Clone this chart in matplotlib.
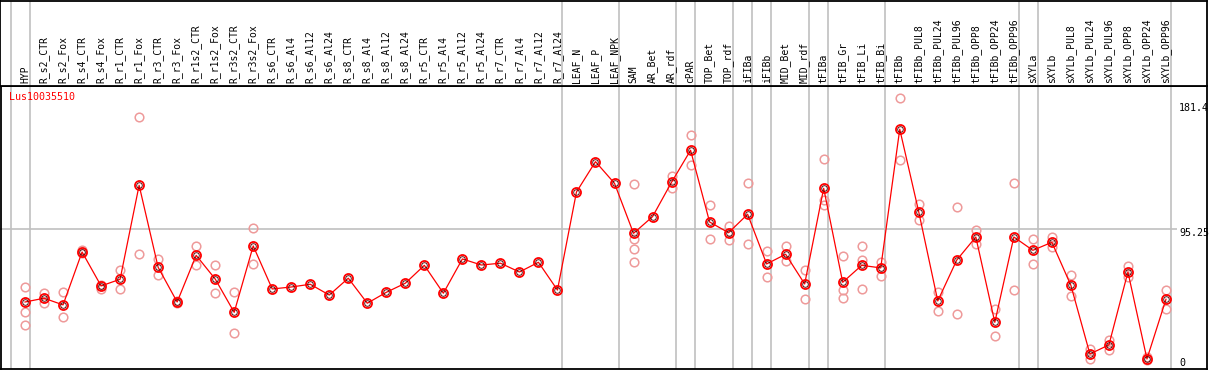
import numpy as np
import matplotlib.pyplot as plt

# muestras (columnas del grafico)
samples = ["HYP", "R_s2_CTR", "R_s2_Fox", "R_s4_CTR", "R_s4_Fox", "R_r1_CTR", "R_r1_Fox",
           "R_r3_CTR", "R_r3_Fox", "R_r1s2_CTR", "R_r1s2_Fox", "R_r3s2_CTR", "R_r3s2_Fox",
           "R_s6_CTR", "R_s6_Al4", "R_s6_Al12", "R_s6_Al24", "R_s8_CTR", "R_s8_Al4",
           "R_s8_Al12", "R_s8_Al24", "R_r5_CTR", "R_r5_Al4", "R_r5_Al12", "R_r5_Al24",
           "R_r7_CTR", "R_r7_Al4", "R_r7_Al12", "R_r7_Al24", "LEAF_N", "LEAF_P", "LEAF_NPK",
           "SAM", "AR_Bet", "AR_rdf", "cPAR", "TOP_Bet", "TOP_rdf", "iFIBa", "iFIBb",
           "MID_Bet", "MID_rdf", "tFIBa", "tFIB_Gr", "tFIB_Li", "tFIB_Bi", "tFIBb",
           "tFIBb_PUL8", "tFIBb_PUL24", "tFIBb_PUL96", "tFIBb_OPP8", "tFIBb_OPP24",
           "tFIBb_OPP96", "sXYLa", "sXYLb", "sXYLb_PUL8", "sXYLb_PUL24", "sXYLb_PUL96",
           "sXYLb_OPP8", "sXYLb_OPP24", "sXYLb_OPP96"]

# media de expresion por muestra
means = [47.0, 49.5, 45.1, 80.0, 57.6, 62.0, 124.0, 69.9, 47.0, 77.8, 62.2, 40.2, 84.0,
         55.6, 56.9, 58.7, 51.6, 62.7, 46.2, 53.4, 59.4, 71.2, 52.8, 75.4, 71.4,
         72.6, 66.8, 73.2, 54.9, 119.6, 139.6, 125.3,
         92.3, 103.3, 126.0, 147.1, 99.8, 92.7, 104.9, 72.1,
         78.5, 58.9, 122.0, 60.0, 71.2, 69.5, 161.0,
         106.4, 47.7, 74.7, 89.9, 33.6, 89.9, 81.1, 86.4, 58.0, 12.7, 18.7,
         66.8, 9.4, 48.8]

# replicas (puntos rosados), lista vacia si no hay
reps = [[56.7, 40.6, 31.7], [52.8, 46.2], [53.4, 36.9], [81.3, 79.2], [58.2, 55.8],
        [68.1, 55.4], [168.9, 78.5], [75.4, 64.6], [47.9, 46.2], [84.0, 71.6],
        [71.4, 52.8], [53.8, 26.6], [95.6, 71.9],
        [], [], [], [], [], [], [], [], [], [], [], [], [], [], [], [], [], [], [],
        [124.7, 88.4, 81.8, 73.2], [], [130.1, 122.2], [157.2, 137.2], [110.8, 88.4],
        [97.2, 87.7], [125.3, 85.3], [80.5, 63.5], [84.0, 73.9], [68.1, 48.8],
        [141.2, 114.3, 111.0], [77.4, 54.9, 49.5], [84.0, 74.7, 55.4], [73.4, 64.2],
        [181.4, 140.7], [111.7, 101.1], [53.8, 41.1], [109.5, 39.1], [94.5, 85.3],
        [42.4, 24.4], [125.3, 54.9], [88.6, 72.1], [89.7, 83.5], [64.6, 51.0],
        [15.8, 9.2], [22.0, 15.4], [71.0, 63.3], [10.6, 8.8], [54.9, 42.6]]

# ultima muestra de cada grupo (lineas grises)
group_ends = [-1, 0, 28, 31, 34, 35, 37, 38, 39, 41, 42, 45, 52, 53, 60]

scale_labels = ["181.4", "95.25", "0"]
mid_value = 95.25
gene = "Lus10035510"

W, H = 1209, 370
fig = plt.figure(figsize=(W / 100, H / 100), dpi=100)
mono = "DejaVu Sans Mono"

x = np.arange(len(samples))
xlim = ((1 - 26) / 19, (1207.3 - 26) / 19)

ax = fig.add_axes([0, (370 - 368.7) / H, 1207.3 / W, (368.7 - 85.7) / H])
hx = fig.add_axes([0, (370 - 85.7) / H, 1207.3 / W, 85.2 / H])

for a in (ax, hx):
    a.set_xlim(xlim)
    a.set_xticks([])
    a.set_yticks([])
    for s in a.spines.values():
        s.set_linewidth(1.3)
        s.set_color("black")
    for g in group_ends:
        a.axvline(g + 0.25, color="#c0c0c0", lw=1.2, zorder=0)

ax.set_ylim(3.0, 189.7)
hx.set_ylim(0, 1)
ax.spines["left"].set_position(("data", xlim[0] + 0.04))

# linea horizontal del valor medio
ax.hlines(mid_value, xlim[0], (1177 - 26) / 19, color="#c0c0c0", lw=1.2, zorder=0)

# replicas
rx = [i for i, r in enumerate(reps) for _ in r]
ry = [v for r in reps for v in r]
ax.plot(rx, ry, "o", ms=6.2, mfc="none", mec="#ee9a9a", mew=1.1, zorder=2)

# medias
ax.plot(x, means, "-", color="red", lw=0.9, zorder=3)
ax.plot(x, means, "o", ms=6.5, mfc="none", mec="red", mew=1.3, zorder=4)
ax.plot(x, means, "o", ms=4.0, mfc="none", mec="#400000", mew=0.6, zorder=5)

# etiquetas de columnas
for i, name in enumerate(samples):
    hx.text(i, 0.03, name, rotation=90, ha="center", va="bottom",
            fontsize=7, family=mono)

ax.text(-0.84, 1 - 6.8 / 283, gene, transform=ax.get_xaxis_transform(),
        color="red", fontsize=7.2, family=mono, va="top", ha="left")

xl = (1179 - 26) / 19
for lab, ypix in zip(scale_labels, [103.3, 228.3, 357.5]):
    ax.text(xl, (368.7 - ypix) / 283, lab, transform=ax.get_xaxis_transform(),
            fontsize=7.2, family=mono, va="top", ha="left")

fig.savefig("out.png", dpi=100)
